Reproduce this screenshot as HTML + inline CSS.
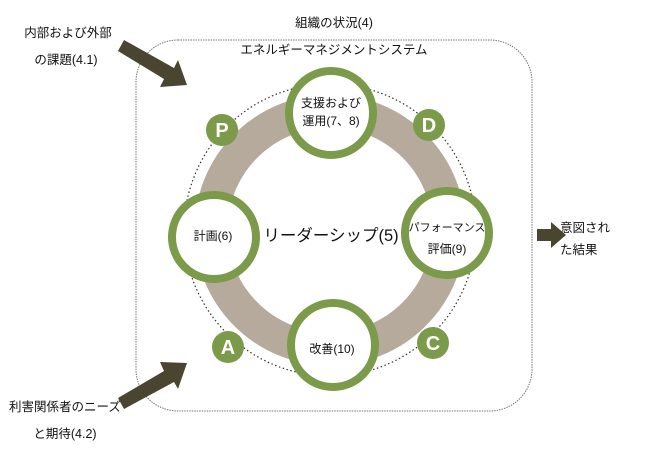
<!DOCTYPE html>
<html><head><meta charset="utf-8"><style>
html,body{margin:0;padding:0;background:#fff;}
svg{display:block;font-family:"Liberation Sans","Noto Sans CJK JP",sans-serif;}
</style></head><body>
<svg width="650" height="450" viewBox="0 0 650 450" xmlns="http://www.w3.org/2000/svg">
<rect x="136" y="40" width="396" height="371" rx="42" fill="none" stroke="#777" stroke-width="1" stroke-dasharray="1.5,1"/>
<text x="334" y="27" font-size="12.5" text-anchor="middle" fill="#111">組織の状況(4)</text>
<text x="334" y="54" font-size="12.5" text-anchor="middle" fill="#111">エネルギーマネジメントシステム</text>
<circle cx="330" cy="230" r="146" fill="none" stroke="#333" stroke-width="1.2" stroke-dasharray="1.5,2.5"/>
<circle cx="330" cy="230" r="119" fill="none" stroke="#b6aa9c" stroke-width="33"/>
<g fill="#fff" stroke="#7b9a4a" stroke-width="8">
<circle cx="331" cy="113" r="42"/>
<circle cx="214" cy="237" r="42"/>
<circle cx="447" cy="233" r="42"/>
<circle cx="333" cy="345" r="42"/>
</g>
<g fill="#7b9a4a">
<circle cx="222" cy="130" r="16"/><circle cx="429" cy="125" r="16"/>
<circle cx="228" cy="347" r="16"/><circle cx="433" cy="343" r="16"/>
</g>
<g fill="#fff" font-size="20" font-weight="bold" text-anchor="middle">
<text x="222" y="137">P</text><text x="429" y="132">D</text>
<text x="228" y="354">A</text><text x="433" y="350">C</text>
</g>
<g font-size="12" fill="#111" text-anchor="middle">
<text x="331" y="107">支援および</text><text x="331" y="125">運用(7、8)</text>
<text x="213" y="240">計画(6)</text>
<text x="447" y="231" font-size="11">パフォーマンス</text><text x="447" y="253">評価(9)</text>
<text x="332" y="353">改善(10)</text>
<text x="331" y="241" font-size="16.5">リーダーシップ(5)</text>
</g>
<g font-size="12.5" fill="#111" text-anchor="middle">
<text x="68" y="37">内部および外部</text><text x="66" y="64">の課題(4.1)</text>
<text x="65" y="411">利害関係者のニーズ</text><text x="65" y="438">と期待(4.2)</text>
</g>
<text x="560" y="232" font-size="12.5" fill="#111">意図され</text>
<text x="560" y="254" font-size="12.5" fill="#111">た結果</text>
<g fill="#4a4530">
<polygon points="118,51 124,40 174,68 178,60 187,85 160,87 164,79"/>
<polygon points="118,398 124,409 174,382 178,389 187,363 160,362 164,371"/>
<polygon points="537,229 551,229 551,222 566,235 551,248 551,241 537,241"/>
</g>
</svg>
</body></html>
